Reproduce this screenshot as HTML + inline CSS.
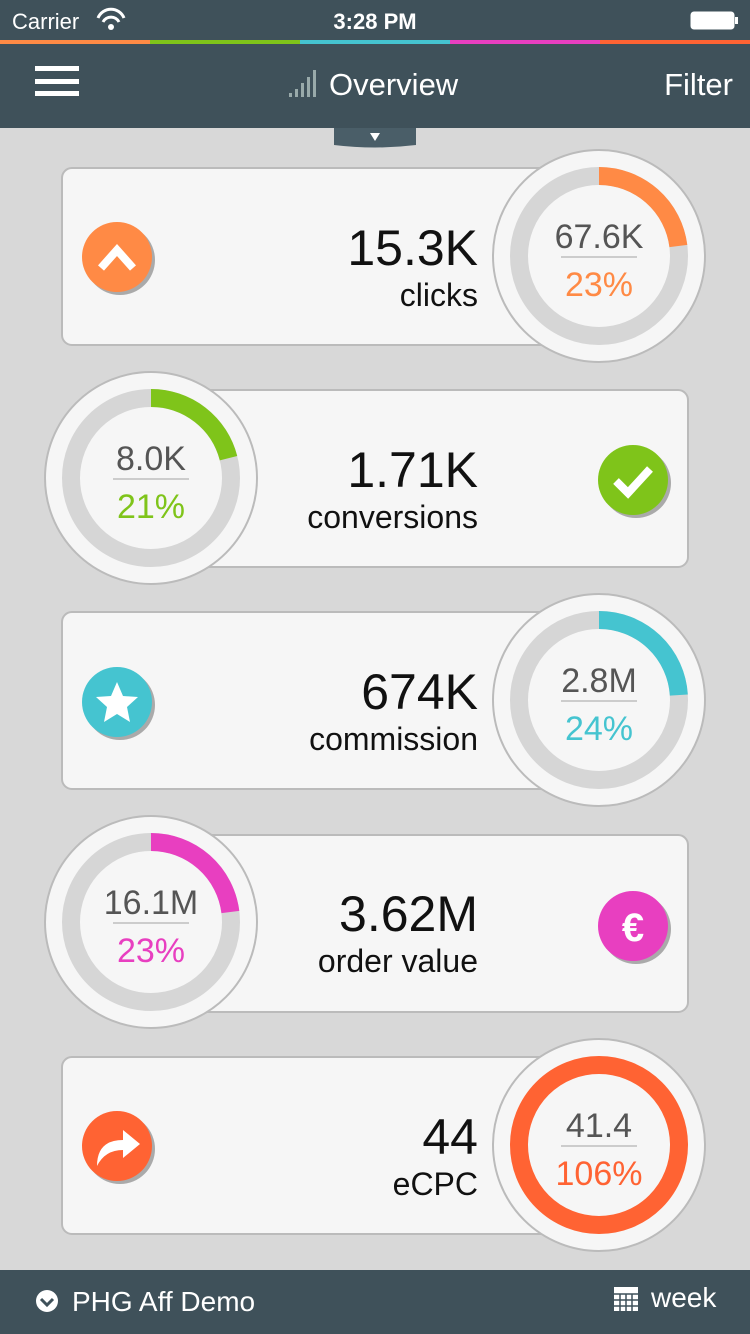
<!DOCTYPE html>
<html><head><meta charset="utf-8"><style>
html,body{margin:0;padding:0;width:750px;height:1334px;overflow:hidden;background:#d8d8d8;font-family:"Liberation Sans",sans-serif}
</style></head><body>
<svg width="750" height="1334" viewBox="0 0 750 1334" xmlns="http://www.w3.org/2000/svg" font-family="Liberation Sans, sans-serif">
<rect width="750" height="1334" fill="#d8d8d8"/>
<rect width="750" height="128" fill="#3f515a"/>
<text x="12" y="29" fill="#fff" font-size="22">Carrier</text>
<path d="M98 18 a14 14 0 0 1 26 0" fill="none" stroke="#fff" stroke-width="3"/>
<path d="M103 22 a9 9 0 0 1 16 0" fill="none" stroke="#fff" stroke-width="3"/>
<circle cx="111" cy="27" r="3" fill="#fff"/>
<text x="375" y="29" fill="#fff" font-size="22" font-weight="bold" text-anchor="middle">3:28 PM</text>
<rect x="691" y="12" width="43" height="17" rx="3" fill="#fff" stroke="#fff"/>
<rect x="735" y="17" width="3" height="7" fill="#fff"/>
<rect x="0" y="40" width="150" height="4" fill="#ff8a45"/>
<rect x="150" y="40" width="150" height="4" fill="#7fc41a"/>
<rect x="300" y="40" width="150" height="4" fill="#45c4d0"/>
<rect x="450" y="40" width="150" height="4" fill="#e83fc0"/>
<rect x="600" y="40" width="150" height="4" fill="#ff6333"/>
<rect x="35" y="66" width="44" height="5" fill="#fff"/>
<rect x="35" y="79" width="44" height="5" fill="#fff"/>
<rect x="35" y="91" width="44" height="5" fill="#fff"/>
<g fill="#9aa">
<rect x="289" y="93" width="3" height="4"/><rect x="295" y="89" width="3" height="8"/><rect x="301" y="83" width="3" height="14"/><rect x="307" y="77" width="3" height="20"/><rect x="313" y="70" width="3" height="27"/></g>
<text x="329" y="95" fill="#fff" font-size="31">Overview</text>
<text x="733" y="95" fill="#fff" font-size="31" text-anchor="end">Filter</text>
<path d="M334 128 H416 V145 Q375 150 334 145 Z" fill="#4a5e68"/>
<path d="M370 133 H380 L375 141 Z" fill="#fff"/>

<!-- card generator -->
<g id="c1">
<rect x="62" y="168" width="540" height="177" rx="10" fill="#f6f6f6" stroke="#bbb" stroke-width="2"/>
<circle cx="599" cy="256" r="106" fill="#f6f6f6" stroke="#bbb" stroke-width="2"/>
<circle cx="599" cy="256" r="80" fill="none" stroke="#d6d6d6" stroke-width="18"/>
<circle cx="599" cy="256" r="80" fill="none" stroke="#ff8a45" stroke-width="18" stroke-dasharray="115.6 500" transform="rotate(-90 599 256)"/>
<text x="599" y="248" font-size="34" fill="#555" text-anchor="middle">67.6K</text>
<rect x="561" y="256" width="76" height="2" fill="#ccc"/>
<text x="599" y="296" font-size="34" fill="#ff8a45" text-anchor="middle">23%</text>
<circle cx="120" cy="260" r="35" fill="#aaa"/><circle cx="117" cy="257" r="35" fill="#ff8a45"/>
<path d="M101 268 L117 250 L133 268" fill="none" stroke="#fff" stroke-width="8"/>
<text x="478" y="265" font-size="50" fill="#111" text-anchor="end">15.3K</text>
<text x="478" y="306" font-size="32" fill="#111" text-anchor="end">clicks</text>
</g>

<g>
<rect x="148" y="390" width="540" height="177" rx="10" fill="#f6f6f6" stroke="#bbb" stroke-width="2"/>
<circle cx="151" cy="478" r="106" fill="#f6f6f6" stroke="#bbb" stroke-width="2"/>
<circle cx="151" cy="478" r="80" fill="none" stroke="#d6d6d6" stroke-width="18"/>
<circle cx="151" cy="478" r="80" fill="none" stroke="#7fc41a" stroke-width="18" stroke-dasharray="105.6 500" transform="rotate(-90 151 478)"/>
<text x="151" y="470" font-size="34" fill="#555" text-anchor="middle">8.0K</text>
<rect x="113" y="478" width="76" height="2" fill="#ccc"/>
<text x="151" y="518" font-size="34" fill="#7fc41a" text-anchor="middle">21%</text>
<circle cx="636" cy="483" r="35" fill="#aaa"/><circle cx="633" cy="480" r="35" fill="#7fc41a"/>
<path d="M616 481 L628 493 L650 469" fill="none" stroke="#fff" stroke-width="8"/>
<text x="478" y="487" font-size="50" fill="#111" text-anchor="end">1.71K</text>
<text x="478" y="528" font-size="32" fill="#111" text-anchor="end">conversions</text>
</g>

<g>
<rect x="62" y="612" width="540" height="177" rx="10" fill="#f6f6f6" stroke="#bbb" stroke-width="2"/>
<circle cx="599" cy="700" r="106" fill="#f6f6f6" stroke="#bbb" stroke-width="2"/>
<circle cx="599" cy="700" r="80" fill="none" stroke="#d6d6d6" stroke-width="18"/>
<circle cx="599" cy="700" r="80" fill="none" stroke="#45c4d0" stroke-width="18" stroke-dasharray="120.6 500" transform="rotate(-90 599 700)"/>
<text x="599" y="692" font-size="34" fill="#555" text-anchor="middle">2.8M</text>
<rect x="561" y="700" width="76" height="2" fill="#ccc"/>
<text x="599" y="740" font-size="34" fill="#45c4d0" text-anchor="middle">24%</text>
<circle cx="120" cy="705" r="35" fill="#aaa"/><circle cx="117" cy="702" r="35" fill="#45c4d0"/>
<path d="M117 682 L123 696 L138 697 L127 707 L130 722 L117 714 L104 722 L107 707 L96 697 L111 696 Z" fill="#fff"/>
<text x="478" y="709" font-size="50" fill="#111" text-anchor="end">674K</text>
<text x="478" y="750" font-size="32" fill="#111" text-anchor="end">commission</text>
</g>

<g>
<rect x="148" y="835" width="540" height="177" rx="10" fill="#f6f6f6" stroke="#bbb" stroke-width="2"/>
<circle cx="151" cy="922" r="106" fill="#f6f6f6" stroke="#bbb" stroke-width="2"/>
<circle cx="151" cy="922" r="80" fill="none" stroke="#d6d6d6" stroke-width="18"/>
<circle cx="151" cy="922" r="80" fill="none" stroke="#e83fc0" stroke-width="18" stroke-dasharray="115.6 500" transform="rotate(-90 151 922)"/>
<text x="151" y="914" font-size="34" fill="#555" text-anchor="middle">16.1M</text>
<rect x="113" y="922" width="76" height="2" fill="#ccc"/>
<text x="151" y="962" font-size="34" fill="#e83fc0" text-anchor="middle">23%</text>
<circle cx="636" cy="929" r="35" fill="#aaa"/><circle cx="633" cy="926" r="35" fill="#e83fc0"/>
<text x="633" y="941" font-size="40" font-weight="bold" fill="#fff" text-anchor="middle">€</text>
<text x="478" y="931" font-size="50" fill="#111" text-anchor="end">3.62M</text>
<text x="478" y="972" font-size="32" fill="#111" text-anchor="end">order value</text>
</g>

<g>
<rect x="62" y="1057" width="540" height="177" rx="10" fill="#f6f6f6" stroke="#bbb" stroke-width="2"/>
<circle cx="599" cy="1145" r="106" fill="#f6f6f6" stroke="#bbb" stroke-width="2"/>
<circle cx="599" cy="1145" r="80" fill="none" stroke="#ff6333" stroke-width="18"/>
<text x="599" y="1137" font-size="34" fill="#555" text-anchor="middle">41.4</text>
<rect x="561" y="1145" width="76" height="2" fill="#ccc"/>
<text x="599" y="1185" font-size="34" fill="#ff6333" text-anchor="middle">106%</text>
<circle cx="120" cy="1149" r="35" fill="#aaa"/><circle cx="117" cy="1146" r="35" fill="#ff6333"/>
<path d="M97 1166 Q97 1140 123 1140 V1130 L140 1144 L123 1158 V1150 Q105 1150 97 1166 Z" fill="#fff"/>
<text x="478" y="1154" font-size="50" fill="#111" text-anchor="end">44</text>
<text x="478" y="1195" font-size="32" fill="#111" text-anchor="end">eCPC</text>
</g>

<rect x="0" y="1270" width="750" height="64" fill="#3f515a"/>
<circle cx="47" cy="1301" r="11" fill="#fff"/>
<path d="M41 1299 L47 1305 L53 1299" fill="none" stroke="#3f515a" stroke-width="3"/>
<text x="72" y="1311" fill="#fff" font-size="28">PHG Aff Demo</text>
<rect x="614" y="1287" width="24" height="24" fill="#fff"/>
<g stroke="#3f515a" stroke-width="1.5"><line x1="614" y1="1294" x2="638" y2="1294"/><line x1="614" y1="1300" x2="638" y2="1300"/><line x1="614" y1="1306" x2="638" y2="1306"/><line x1="620" y1="1294" x2="620" y2="1311"/><line x1="626" y1="1294" x2="626" y2="1311"/><line x1="632" y1="1294" x2="632" y2="1311"/></g>
<text x="651" y="1307" fill="#fff" font-size="28">week</text>
</svg>
</body></html>
